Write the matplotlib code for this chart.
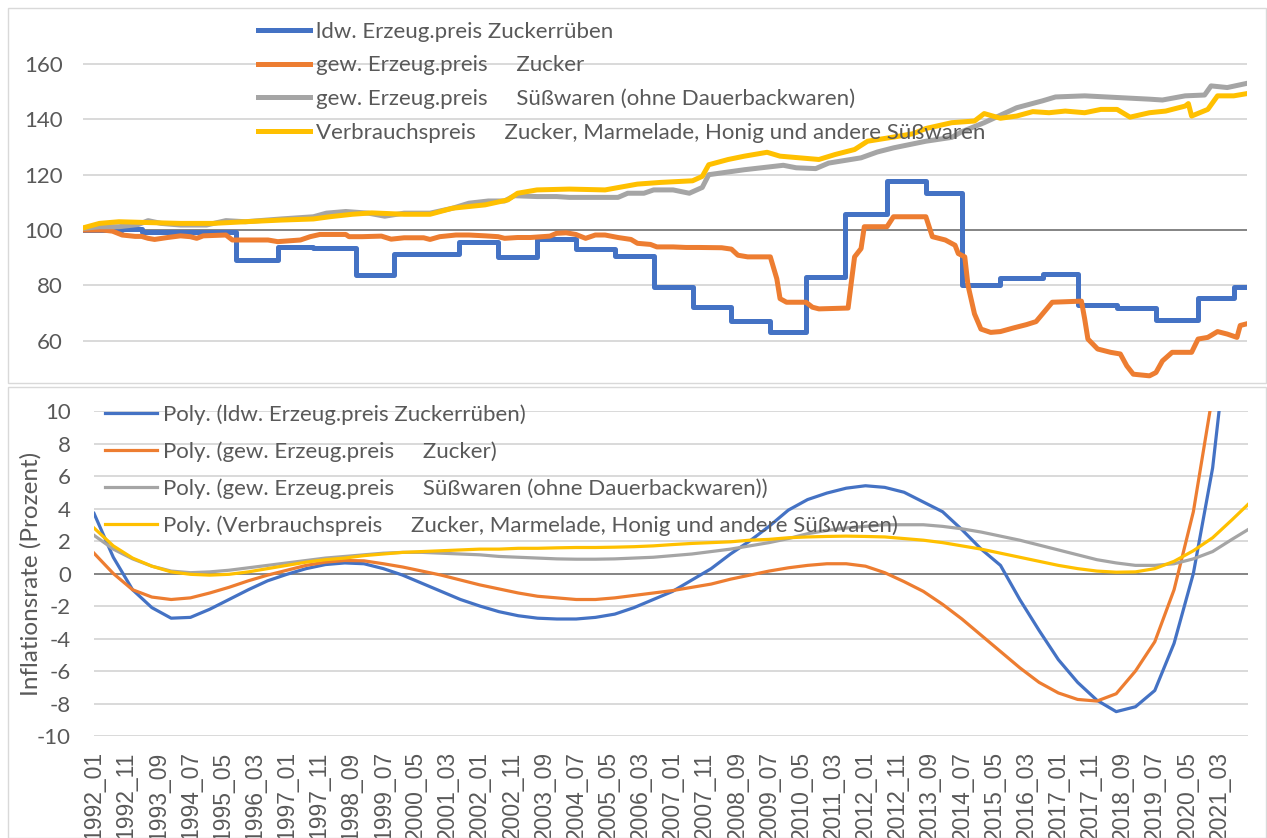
import matplotlib
matplotlib.use("Agg")
import matplotlib.pyplot as plt
from matplotlib.patches import Rectangle

W, H = 1267, 838

# ---- Daten oben: Indexwerte (1992_01 = 100), Monat 0 = 1992_01 ----
ruebe_start = [0, 12, 18, 47, 60, 71, 84, 96, 116, 128, 140, 152, 164, 176, 188,
               200, 212, 223, 235, 248, 260, 271, 283, 296, 307, 319, 331, 344, 355]
ruebe_wert = [100.0, 100.4, 99.3, 89.1, 93.9, 93.6, 83.9, 91.5, 95.8, 90.3, 96.6,
              93.3, 90.5, 79.4, 72.1, 67.3, 63.0, 83.0, 105.7, 117.6, 113.3, 80.2,
              82.8, 84.0, 73.0, 71.9, 67.6, 75.5, 79.3]

zucker_m = [0, 6, 9, 12, 16, 18, 20, 22, 26, 30, 33, 35, 37, 44, 46, 53, 57, 60, 67,
            70, 73, 81, 82, 86, 92, 95, 99, 105, 107, 110, 115, 119, 124, 128, 130,
            134, 138, 144, 146, 149, 152, 155, 158, 161, 165, 169, 171, 175, 177,
            182, 186, 190, 197, 200, 202, 205, 212, 214, 215, 217, 223, 225, 227,
            236, 237, 238, 240, 241, 248, 250, 260, 262, 266, 269, 270, 272, 273,
            275, 277, 280, 283, 287, 291, 294, 296, 299, 308, 309, 310, 313, 317,
            320, 322, 324, 329, 331, 333, 336, 342, 344, 347, 350, 353, 356, 357, 359]
zucker_w = [100.0, 100.0, 99.6, 98.2, 97.7, 97.7, 97.0, 96.6, 97.3, 97.9, 97.6, 97.0,
            97.9, 98.2, 96.4, 96.4, 96.4, 95.8, 96.4, 97.6, 98.4, 98.4, 97.6, 97.6,
            97.8, 96.7, 97.2, 97.2, 96.6, 97.6, 98.2, 98.2, 97.9, 97.6, 97.0, 97.3,
            97.3, 97.8, 98.8, 99.0, 98.4, 97.0, 98.2, 98.2, 97.3, 96.6, 95.2, 94.8,
            93.9, 93.9, 93.7, 93.7, 93.6, 93.1, 90.9, 90.3, 90.3, 82.4, 75.2, 73.9,
            73.9, 72.1, 71.5, 71.8, 81.2, 90.3, 93.3, 101.2, 101.2, 104.8, 104.8,
            97.6, 96.4, 94.5, 91.5, 90.3, 80.0, 69.7, 64.2, 63.0, 63.3, 64.6, 65.8,
            66.9, 69.7, 73.9, 74.3, 67.9, 60.6, 57.0, 55.8, 55.2, 50.9, 47.9, 47.3,
            48.5, 52.7, 55.8, 55.8, 60.6, 61.2, 63.3, 62.4, 61.2, 65.5, 66.1]

suess_m = [0, 5, 11, 17, 20, 24, 30, 38, 44, 50, 61, 71, 75, 81, 88, 93, 99, 107,
           114, 119, 125, 130, 133, 140, 146, 150, 165, 168, 173, 176, 182, 187, 191,
           193, 204, 216, 220, 226, 230, 240, 245, 250, 260, 268, 271, 278, 288, 296,
           300, 309, 319, 329, 333, 340, 346, 348, 353, 359]
suess_w = [100.6, 101.2, 101.2, 102.0, 103.4, 102.4, 101.8, 101.8, 103.4, 103.0,
           104.0, 104.8, 106.1, 106.7, 106.1, 105.0, 106.1, 106.1, 107.9, 109.7,
           110.5, 110.5, 112.4, 112.1, 112.1, 111.8, 111.8, 113.3, 113.3, 114.5,
           114.5, 113.3, 115.4, 120.0, 121.8, 123.4, 122.5, 122.2, 124.2, 126.1,
           128.2, 129.7, 132.1, 133.5, 135.5, 138.8, 144.2, 146.7, 148.1, 148.5,
           147.9, 147.3, 147.0, 148.5, 148.8, 152.1, 151.5, 153.0]

vpi_m = [0, 5, 11, 20, 30, 40, 50, 61, 71, 76, 83, 89, 99, 107, 114, 124, 131, 134,
         140, 150, 161, 171, 178, 188, 191, 193, 199, 204, 211, 215, 219, 227, 232,
         238, 242, 250, 256, 260, 268, 275, 278, 283, 288, 293, 298, 303, 309, 314,
         319, 323, 329, 334, 340, 341, 342, 347, 350, 355, 359]
vpi_w = [100.8, 102.4, 103.0, 102.7, 102.4, 102.4, 103.0, 103.6, 104.0, 104.8, 105.7,
         106.2, 105.7, 105.7, 107.9, 109.1, 110.9, 113.3, 114.5, 114.8, 114.5, 116.6,
         117.2, 117.8, 119.4, 123.6, 125.5, 126.7, 128.1, 126.7, 126.3, 125.5, 127.3,
         129.1, 132.1, 133.6, 134.8, 136.7, 138.8, 139.4, 142.1, 140.4, 141.2, 142.8,
         142.4, 143.0, 142.4, 143.6, 143.6, 140.8, 142.4, 143.0, 144.8, 145.7, 141.2,
         143.6, 148.5, 148.5, 149.3]

# ---- Daten unten: polynomiale Trendlinien der Inflationsrate (Prozent) ----
poly_m = list(range(0, 355, 6)) + [359]
poly_ruebe = [3.7, 1.0, -1.0, -2.1, -2.75, -2.7, -2.2, -1.6, -1.0, -0.45, -0.05, 0.3,
              0.55, 0.65, 0.6, 0.3, -0.1, -0.6, -1.1, -1.6, -2.0, -2.35, -2.6, -2.75,
              -2.8, -2.8, -2.7, -2.5, -2.1, -1.6, -1.1, -0.4, 0.3, 1.2, 2.0, 2.9, 3.9,
              4.55, 4.95, 5.25, 5.4, 5.3, 5.0, 4.4, 3.8, 2.7, 1.5, 0.5, -1.6, -3.5,
              -5.3, -6.7, -7.8, -8.5, -8.2, -7.2, -4.3, 0.0, 6.5, 17.0, 26.0]
poly_zucker = [1.25, 0.0, -1.0, -1.45, -1.6, -1.5, -1.2, -0.85, -0.45, -0.1, 0.2, 0.5,
               0.7, 0.8, 0.78, 0.6, 0.4, 0.15, -0.1, -0.4, -0.7, -0.95, -1.2, -1.4,
               -1.5, -1.6, -1.6, -1.5, -1.35, -1.2, -1.05, -0.85, -0.65, -0.35, -0.1,
               0.15, 0.35, 0.5, 0.6, 0.6, 0.45, 0.05, -0.5, -1.1, -1.9, -2.8, -3.8,
               -4.8, -5.8, -6.7, -7.35, -7.75, -7.85, -7.4, -6.0, -4.2, -1.0, 3.8,
               11.0, 20.0, 28.0]
poly_suess = [2.35, 1.5, 0.9, 0.45, 0.15, 0.05, 0.1, 0.2, 0.35, 0.5, 0.65, 0.8, 0.95,
              1.05, 1.15, 1.25, 1.3, 1.3, 1.25, 1.2, 1.15, 1.05, 1.0, 0.95, 0.9, 0.88,
              0.88, 0.9, 0.95, 1.0, 1.1, 1.2, 1.35, 1.5, 1.7, 1.9, 2.15, 2.45, 2.65,
              2.8, 2.9, 3.0, 3.0, 3.0, 2.9, 2.75, 2.55, 2.3, 2.05, 1.75, 1.45, 1.15,
              0.85, 0.65, 0.5, 0.5, 0.6, 0.9, 1.35, 2.1, 2.7]
poly_vpi = [2.8, 1.7, 0.95, 0.45, 0.1, -0.05, -0.1, -0.05, 0.1, 0.3, 0.5, 0.7, 0.85,
            0.95, 1.1, 1.2, 1.3, 1.35, 1.4, 1.45, 1.5, 1.5, 1.55, 1.55, 1.58, 1.6,
            1.6, 1.62, 1.65, 1.7, 1.78, 1.85, 1.9, 1.95, 2.05, 2.1, 2.2, 2.25, 2.28,
            2.3, 2.28, 2.25, 2.15, 2.05, 1.9, 1.7, 1.5, 1.25, 1.0, 0.75, 0.5, 0.3,
            0.15, 0.08, 0.1, 0.3, 0.75, 1.4, 2.2, 3.3, 4.25]

namen = ["ldw. Erzeug.preis Zuckerrüben",
         "gew. Erzeug.preis     Zucker",
         "gew. Erzeug.preis     Süßwaren (ohne Dauerbackwaren)",
         "Verbrauchspreis     Zucker, Marmelade, Honig und andere Süßwaren"]
farben = ["#4472C4", "#ED7D31", "#A5A5A5", "#FFC000"]

tick_m = list(range(0, 351, 10))
tick_lab = ["%d_%02d" % (1992 + m // 12, m % 12 + 1) for m in tick_m]

TXT = "#595959"
GRID = "#D9D9D9"
FS = 16
plt.rcParams["font.family"] = ["Lato", "DejaVu Sans"]
plt.rcParams["axes.unicode_minus"] = False


def box(l, t, r, b):
    return [l / W, 1 - b / H, (r - l) / W, (b - t) / H]


fig = plt.figure(figsize=(W / 100, H / 100), dpi=100)
fig.patches.append(Rectangle((8 / W, 1 - 383 / H), 1258 / W, 375 / H,
                             transform=fig.transFigure, fill=False, ec=GRID, lw=1))
fig.patches.append(Rectangle((8 / W, 0), 1258 / W, 1 - 387 / H,
                             transform=fig.transFigure, fill=False, ec=GRID, lw=1))

# ---- oberes Diagramm ----
ax1 = fig.add_axes(box(83.3, 58.5, 1246.7, 382.2))
ax1.set_xlim(0, 359)
ax1.set_ylim(45, 162)
ax1.set_yticks([60, 80, 100, 120, 140, 160])
ax1.set_xticks([])
ax1.grid(axis="y", color=GRID, lw=1.4)
ax1.set_axisbelow(True)
ax1.axhline(100, color="#7F7F7F", lw=1.3, zorder=1.5)
for s in ax1.spines.values():
    s.set_visible(False)
ax1.tick_params(axis="y", length=0, pad=15, labelsize=FS, labelcolor=TXT)

ax1.step(ruebe_start + [359], ruebe_wert + [ruebe_wert[-1]], where="post",
         color=farben[0], lw=3.6, label=namen[0])
ax1.plot(zucker_m, zucker_w, color=farben[1], lw=3.6, label=namen[1])
ax1.plot(suess_m, suess_w, color=farben[2], lw=3.6, label=namen[2])
ax1.plot(vpi_m, vpi_w, color=farben[3], lw=3.6, label=namen[3])
ax1.legend(loc="upper left", bbox_to_anchor=(258 / W, 1 - 22 / H),
           bbox_transform=fig.transFigure, frameon=False, fontsize=FS,
           labelcolor=TXT, borderpad=0, borderaxespad=0, handlelength=2.34,
           handletextpad=0.27, labelspacing=0.6)

# ---- unteres Diagramm ----
ax2 = fig.add_axes(box(94, 411, 1248, 736))
ax2.set_xlim(0, 359)
ax2.set_ylim(-10, 10)
ax2.set_yticks(range(-10, 11, 2))
ax2.set_xticks(tick_m)
ax2.set_xticklabels(tick_lab, rotation=90, family=["Liberation Sans"],
                    fontsize=16.5, color=TXT)
ax2.grid(axis="y", color=GRID, lw=1.4)
ax2.set_axisbelow(True)
ax2.axhline(0, color="#7F7F7F", lw=1.3, zorder=1.5)
for s in ax2.spines.values():
    s.set_visible(False)
ax2.tick_params(axis="y", length=0, pad=16.5, labelsize=FS, labelcolor=TXT)
ax2.tick_params(axis="x", length=0, pad=11)
ax2.set_ylabel("Inflationsrate (Prozent)", fontsize=17.5, color=TXT)
ax2.yaxis.set_label_coords(-0.045, 0.5)

for werte, name, farbe in zip([poly_ruebe, poly_zucker, poly_suess, poly_vpi],
                              namen, farben):
    ax2.plot(poly_m, werte, color=farbe, lw=2.3, label="Poly. (" + name + ")")
ax2.legend(loc="upper left", bbox_to_anchor=(105 / W, 1 - 404 / H),
           bbox_transform=fig.transFigure, frameon=False, fontsize=FS,
           labelcolor=TXT, borderpad=0, borderaxespad=0, handlelength=2.34,
           handletextpad=0.27, labelspacing=0.74)

fig.savefig("out.png", dpi=100)
